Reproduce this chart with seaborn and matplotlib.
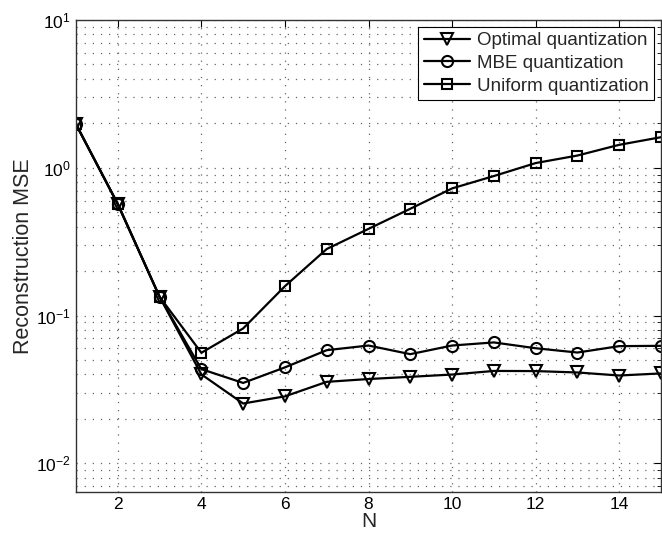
import numpy as np
import pandas as pd
import matplotlib
matplotlib.use("Agg")
import matplotlib.pyplot as plt
import seaborn as sns
from matplotlib.ticker import LogLocator, FixedLocator

# --------------------------------------------------------------
# Data
# --------------------------------------------------------------
n_values = list(range(1, 16))
optimal_mse = [1.97, 0.568, 0.134, 0.040, 0.0254, 0.0284, 0.0356, 0.0372,
               0.0385, 0.0399, 0.0422, 0.0421, 0.0412, 0.0393, 0.0406]
mbe_mse = [1.97, 0.568, 0.134, 0.0434, 0.035, 0.0446, 0.0583, 0.0627,
           0.0548, 0.0627, 0.0658, 0.0601, 0.0562, 0.0621, 0.0624]
uniform_mse = [1.97, 0.568, 0.134, 0.056, 0.0818, 0.158, 0.282, 0.386,
               0.528, 0.725, 0.879, 1.076, 1.21, 1.43, 1.61]
series_labels = ["Optimal quantization", "MBE quantization", "Uniform quantization"]
x_ticks = [2, 4, 6, 8, 10, 12, 14]

df = pd.DataFrame({
    "N": n_values * 3,
    "MSE": optimal_mse + mbe_mse + uniform_mse,
    "method": [series_labels[0]] * 15 + [series_labels[1]] * 15 + [series_labels[2]] * 15,
})

# --------------------------------------------------------------
# Style
# --------------------------------------------------------------
sns.set_style("white")
plt.rcParams["font.family"] = ["Liberation Sans", "DejaVu Sans"]
plt.rcParams["mathtext.fontset"] = "custom"
plt.rcParams["mathtext.rm"] = "Liberation Sans"
plt.rcParams["mathtext.it"] = "Liberation Sans:italic"
plt.rcParams["xtick.direction"] = "in"
plt.rcParams["ytick.direction"] = "in"

fig = plt.figure(figsize=(6.62, 5.40), dpi=100)
ax = fig.add_axes([0.1148, 0.0889, 0.8837, 0.8741])

markers = {"Optimal quantization": ("v", 8), "MBE quantization": ("o", 8),
           "Uniform quantization": ("s", 7)}
for label in series_labels:
    m, ms = markers[label]
    sns.lineplot(data=df[df["method"] == label], x="N", y="MSE", ax=ax,
                 color="black", linewidth=1.6, marker=m, markersize=ms,
                 markerfacecolor="none", markeredgecolor="black",
                 markeredgewidth=1.5, label=label, errorbar=None)

ax.set_yscale("log")
ax.set_xlim(1, 15)
ax.set_ylim(0.0064, 10)
ax.xaxis.set_major_locator(FixedLocator(x_ticks))
ax.yaxis.set_major_locator(LogLocator(base=10, numticks=10))
ax.yaxis.set_minor_locator(LogLocator(base=10, subs=np.arange(2, 10), numticks=10))

# matlab-like sparse dotted grid
dots = (0, (1, 5.5))
ax.grid(True, which="major", axis="both", linestyle=dots, color="#666666", linewidth=0.9)
ax.grid(True, which="minor", axis="y", linestyle=dots, color="#666666", linewidth=0.9)

ax.tick_params(which="both", top=True, right=True, labelsize=12.5, colors="black")
ax.tick_params(which="major", length=5, width=0.8)
ax.tick_params(which="minor", length=3, width=0.6)
for s in ax.spines.values():
    s.set_color("#333333")
    s.set_linewidth(1.0)

ax.set_xlabel("N", fontsize=15, labelpad=0)
ax.set_ylabel("Reconstruction MSE", fontsize=15.5, labelpad=2)

leg = ax.legend(loc="upper right", fontsize=13.5, frameon=True, fancybox=False,
                edgecolor="black", framealpha=1, handlelength=2.5,
                borderpad=0.3, labelspacing=0.3, handletextpad=0.35,
                borderaxespad=0.35)
leg.get_frame().set_linewidth(0.8)

fig.savefig("out.png", dpi=100)
